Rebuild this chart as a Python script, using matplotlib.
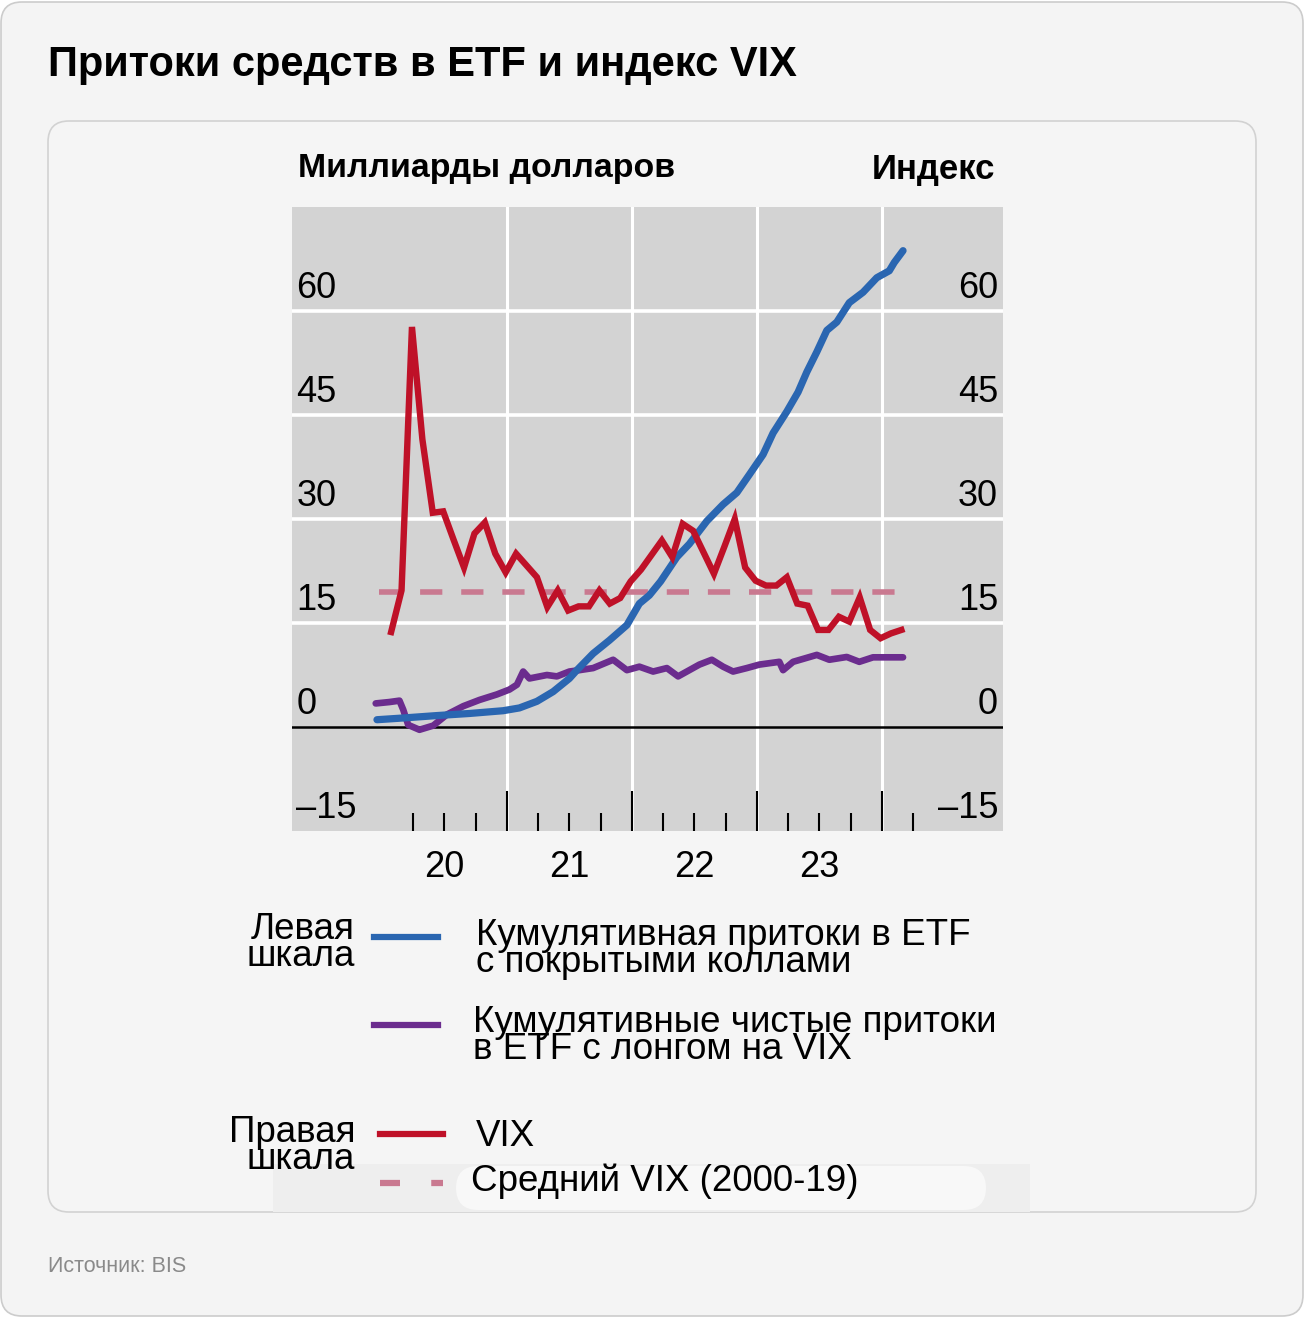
import matplotlib
matplotlib.use("Agg")
import matplotlib.pyplot as plt
import matplotlib.transforms as mtransforms
from matplotlib.patches import FancyBboxPatch, Rectangle
import pandas as pd

# ---------------- data ----------------
# Covered-call ETF cumulative inflows (bn USD), decimal-year dates
cc_dates = [2019.96, 2020.17, 2020.44, 2020.70, 2020.97, 2021.10, 2021.24, 2021.37,
            2021.50, 2021.56, 2021.69, 2021.82, 2021.96, 2022.06, 2022.14, 2022.23,
            2022.36, 2022.46, 2022.60, 2022.73, 2022.84, 2022.94, 2023.05, 2023.13,
            2023.24, 2023.33, 2023.40, 2023.48, 2023.56, 2023.64, 2023.74, 2023.85,
            2023.96, 2024.06, 2024.10, 2024.17]
cc_values = [1.05, 1.3, 1.65, 1.95, 2.35, 2.75, 3.7, 5.1,
             7.0, 8.2, 10.6, 12.5, 14.7, 17.8, 19.0, 21.0,
             24.5, 26.4, 29.7, 32.1, 33.8, 36.4, 39.3, 42.4,
             45.5, 48.3, 51.2, 54.1, 57.2, 58.4, 61.2, 62.7,
             64.8, 65.8, 67.0, 68.7]

# Long-VIX ETF cumulative net inflows (bn USD)
lv_dates = [2019.95, 2020.06, 2020.14, 2020.17, 2020.21, 2020.30, 2020.41, 2020.52,
            2020.65, 2020.78, 2020.92, 2021.02, 2021.08, 2021.13, 2021.18, 2021.32,
            2021.40, 2021.50, 2021.58, 2021.69, 2021.85, 2021.96, 2022.06, 2022.17,
            2022.28, 2022.37, 2022.46, 2022.54, 2022.64, 2022.73, 2022.81, 2022.92,
            2023.02, 2023.18, 2023.21, 2023.29, 2023.48, 2023.58, 2023.72, 2023.82,
            2023.93, 2024.17]
lv_values = [3.4, 3.6, 3.8, 2.5, 0.3, -0.4, 0.2, 1.8,
             3.0, 3.9, 4.7, 5.4, 6.1, 8.0, 7.0, 7.5,
             7.3, 8.0, 8.2, 8.5, 9.7, 8.2, 8.7, 8.0,
             8.5, 7.3, 8.2, 9.0, 9.7, 8.7, 8.0, 8.5,
             9.0, 9.4, 8.2, 9.4, 10.4, 9.7, 10.1, 9.4,
             10.05, 10.05]

# VIX monthly (Jan 2020 - Feb 2024)
vix_months = pd.date_range("2020-01-31", "2024-02-29", freq="ME")
vix_values = [13.7, 19.7, 57.7, 41.5, 30.9, 31.1, 27.0, 23.0, 27.9, 29.5, 25.0, 22.3,
              25.0, 23.3, 21.6, 17.3, 19.7, 16.8, 17.4, 17.4, 19.7, 17.8, 18.6, 21.0,
              22.7, 24.8, 26.9, 24.5, 29.3, 28.3, 25.2, 22.1, 26.0, 30.0, 23.0, 21.1,
              20.4, 20.4, 21.6, 17.8, 17.5, 14.0, 14.0, 15.9, 15.2, 18.7, 14.0, 12.8,
              13.5, 14.0]
vix_mean = 19.4
vix_mean_span = [2019.98, 2024.18]

y_ticks = [-15, 0, 15, 30, 45, 60]
y_tick_labels = ["\u201315", "0", "15", "30", "45", "60"]
years = [2020, 2021, 2022, 2023]
year_labels = ["20", "21", "22", "23"]

title = "Притоки средств в ETF и индекс VIX"
left_unit = "Миллиарды долларов"
right_unit = "Индекс"
source = "Источник: BIS"

# ---------------- style ----------------
C_BLUE = "#2a66b1"
C_PURPLE = "#6b2c8e"
C_RED = "#bf1128"
C_PINK = "#c97990"
BG = "#f4f4f4"
PLOT_BG = "#d3d3d3"
FONT = "Liberation Sans"

W, H = 1305, 1317
fig = plt.figure(figsize=(W / 100, H / 100), dpi=100, facecolor="white")


def fx(px):
    return px / W


def fy(py):
    return 1 - py / H


# outer rounded frame
fig.patches.append(FancyBboxPatch((fx(1), fy(1316)), fx(1302), 1314 / H,
                                  boxstyle="round,pad=0,rounding_size=0.016",
                                  transform=fig.transFigure, facecolor=BG,
                                  edgecolor="#cccccc", linewidth=1.2, zorder=-3))
# inner card
fig.patches.append(FancyBboxPatch((fx(48), fy(1212)), fx(1208), (1212 - 121) / H,
                                  boxstyle="round,pad=0,rounding_size=0.016",
                                  transform=fig.transFigure, facecolor="#f5f5f5",
                                  edgecolor="#d2d2d2", linewidth=1.2, zorder=-2))

fig.text(fx(48), fy(65), title, fontsize=30, fontweight="bold", family=FONT,
         ha="left", va="center")
fig.text(fx(48), fy(1266), source, fontsize=15.5, color="#8a8a8a", family=FONT,
         ha="left", va="center")

# axes
ax = fig.add_axes([fx(292), fy(831), fx(1003 - 292), (831 - 207) / H])
ax.set_zorder(2)
ax.set_facecolor(PLOT_BG)
ax.set_xlim(2019.28, 2024.97)
ax.set_ylim(-15, 75)
for s in ax.spines.values():
    s.set_visible(False)

ax.set_yticks([15, 30, 45, 60])
ax.set_yticklabels([])
ax.tick_params(axis="y", length=0)
ax.grid(axis="y", color="white", linewidth=2.6, zorder=0)
ax.axhline(0, color="black", linewidth=1.8, zorder=2)

ax.set_xticks([2021, 2022, 2023, 2024])
ax.set_xticks([y + q for y in range(2020, 2025) for q in (0.25, 0.5, 0.75)
               if y + q < 2024.5], minor=True)
ax.set_xticklabels([])
ax.tick_params(axis="x", which="major", direction="in", length=29, width=1.5,
               color="black", pad=0)
ax.tick_params(axis="x", which="minor", direction="in", length=13, width=1.5,
               color="black")
ax.grid(axis="x", which="major", color="white", linewidth=2.2, zorder=0)
ax.set_axisbelow(True)

# series
ax.plot(vix_mean_span, [vix_mean, vix_mean], color=C_PINK, linewidth=4.0,
        dashes=(4.0, 3.4), zorder=3)
ax.plot(lv_dates, lv_values, color=C_PURPLE, linewidth=4.8, zorder=4,
        solid_joinstyle="round", solid_capstyle="round")
ax.plot(cc_dates, cc_values, color=C_BLUE, linewidth=5.2, zorder=5,
        solid_joinstyle="round", solid_capstyle="round")
vix_t = [d.year + d.month / 12 - 0.01 for d in vix_months]
ax.plot(vix_t, vix_values, color=C_RED, linewidth=4.6, zorder=6,
        solid_joinstyle="miter")

# tick labels inside plot, above gridlines
bt = mtransforms.blended_transform_factory(ax.transAxes, ax.transData)
for v, lab in zip(y_ticks, y_tick_labels):
    ax.text(0.006, v + 3.3, lab, transform=bt, ha="left", va="center",
            fontsize=26, family=FONT, zorder=7)
    ax.text(0.993, v + 3.3, lab, transform=bt, ha="right", va="center",
            fontsize=26, family=FONT, zorder=7)

bx = mtransforms.blended_transform_factory(ax.transData, ax.transAxes)
for yv, lab in zip(years, year_labels):
    ax.text(yv + 0.5, -0.059, lab, transform=bx, ha="center", va="center",
            fontsize=26, family=FONT, clip_on=False)

fig.text(fx(298), fy(168), left_unit, fontsize=24.4, family=FONT, fontweight="bold",
         ha="left", va="center")
fig.text(fx(995), fy(170), right_unit, fontsize=25, family=FONT, fontweight="bold",
         ha="right", va="center")

# legend-like block
fig.patches.append(Rectangle((fx(273), fy(1212)), fx(757), 48 / H,
                             transform=fig.transFigure, facecolor="#eeeeee",
                             edgecolor="none", zorder=-1))
fig.patches.append(FancyBboxPatch((fx(456), fy(1210)), fx(530), 44 / H,
                                  boxstyle="round,pad=0,rounding_size=0.017",
                                  transform=fig.transFigure, facecolor="#f8f8f8",
                                  edgecolor="none", zorder=-1))


def leg_line(x0, x1, y, color, dashes=None):
    ln = plt.Line2D([fx(x0), fx(x1)], [fy(y), fy(y)], transform=fig.transFigure,
                    color=color, linewidth=4.5, zorder=3)
    if dashes:
        ln.set_dashes(dashes)
    fig.lines.append(ln)


LFS = 26.5
LS = 0.73
fig.text(fx(355), fy(943), "Левая\nшкала", fontsize=LFS, family=FONT, ha="right",
         va="center", linespacing=LS, zorder=4)
leg_line(374, 438, 937, C_BLUE)
fig.text(fx(476), fy(949), "Кумулятивная притоки в ETF\nс покрытыми коллами", fontsize=LFS,
         family=FONT, ha="left", va="center", linespacing=LS, zorder=4)
leg_line(374, 438, 1025, C_PURPLE)
fig.text(fx(473), fy(1036), "Кумулятивные чистые притоки\nв ETF с лонгом на VIX", fontsize=LFS,
         family=FONT, ha="left", va="center", linespacing=LS, zorder=4)
fig.text(fx(355), fy(1146), "Правая\nшкала", fontsize=LFS, family=FONT, ha="right",
         va="center", linespacing=LS, zorder=4)
leg_line(380, 443, 1134, C_RED)
fig.text(fx(476), fy(1137), "VIX", fontsize=LFS, family=FONT, ha="left", va="center",
         zorder=4)
leg_line(380, 443, 1183, C_PINK, dashes=(3.2, 5.0))
fig.text(fx(471), fy(1181), "Средний VIX (2000-19)", fontsize=LFS, family=FONT,
         ha="left", va="center", zorder=4)

fig.savefig("out.png", dpi=100, facecolor=fig.get_facecolor())
